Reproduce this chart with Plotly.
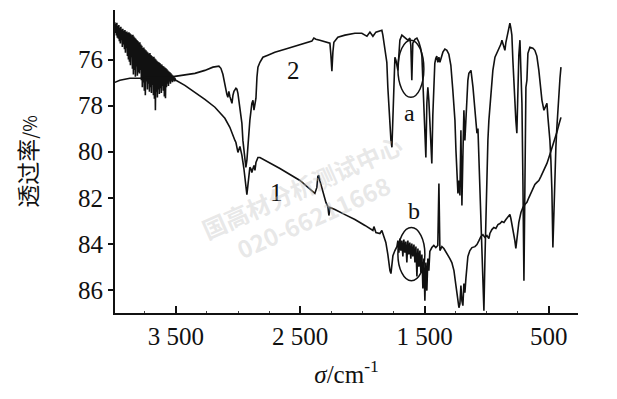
import plotly.graph_objects as go

# ---------------- data (wavenumber cm-1, transmittance %) ----------------
# noisy high-wavenumber part of curve 1
curve1_noise_wn = [
    3991, 3987, 3983, 3979, 3975, 3971, 3967, 3963, 3959, 3955,
    3951, 3947, 3943, 3939, 3935, 3931, 3927, 3923, 3918, 3914,
    3910, 3906, 3902, 3898, 3894, 3890, 3886, 3882, 3878, 3874,
    3870, 3866, 3862, 3858, 3854, 3850, 3846, 3842, 3838, 3834,
    3830, 3826, 3822, 3818, 3814, 3810, 3806, 3802, 3798, 3794,
    3790, 3786, 3782, 3778, 3774, 3770, 3766, 3762, 3758, 3754,
    3750, 3746, 3741, 3737, 3733, 3729, 3725, 3721, 3717, 3713,
    3709, 3705, 3701, 3697, 3693, 3689, 3685, 3681, 3677, 3673,
    3669, 3665, 3661, 3657, 3653, 3649, 3645, 3641, 3637, 3633,
    3629, 3625, 3621, 3617, 3613, 3609, 3605, 3601, 3597, 3593,
    3588, 3584, 3580, 3576, 3572, 3568, 3564, 3560, 3556, 3552,
    3548, 3544, 3540, 3536, 3532, 3528, 3524, 3520, 3516, 3512,
    3508, 3504, 3500,
]
curve1_noise_T = [
    74.38, 74.85, 74.45, 74.95, 74.40, 75.05, 74.55, 75.10, 74.50, 75.20,
    74.62, 75.30, 74.58, 75.15, 74.70, 75.45, 74.66, 75.35, 74.75, 75.55,
    74.72, 75.70, 74.80, 75.50, 74.78, 75.85, 74.85, 76.00, 74.82, 76.10,
    74.86, 76.25, 74.90, 75.90, 74.95, 76.40, 74.92, 76.65, 75.00, 76.45,
    75.05, 76.75, 75.10, 76.30, 75.15, 76.70, 75.20, 76.55, 75.25, 76.60,
    75.25, 76.45, 75.35, 76.90, 75.40, 77.20, 75.50, 77.00, 75.48, 77.35,
    75.55, 77.55, 75.60, 76.95, 75.65, 77.30, 75.70, 77.05, 75.75, 77.40,
    75.72, 77.20, 75.80, 77.45, 75.85, 77.10, 75.90, 77.55, 75.88, 77.70,
    75.95, 78.20, 76.00, 77.40, 76.05, 77.65, 76.10, 77.30, 76.12, 77.50,
    76.15, 77.25, 76.20, 77.45, 76.22, 77.15, 76.28, 77.35, 76.30, 77.60,
    76.35, 77.68, 76.38, 77.20, 76.42, 77.05, 76.48, 77.15, 76.52, 76.95,
    76.55, 77.05, 76.60, 76.92, 76.65, 76.98, 76.70, 76.90, 76.75, 76.95,
    76.80, 76.92, 76.90,
]

# remainder of curve 1 (wavenumber, transmittance)
curve1_points = [
    (3428, 77.12), (3347, 77.42), (3267, 77.73), (3186, 78.07), (3106, 78.55), (3066, 78.94),
    (3041, 79.33), (3025, 79.51), (3017, 79.60), (3001, 80.03), (2985, 79.77), (2969, 80.16),
    (2953, 80.73), (2945, 81.16), (2937, 81.60), (2929, 81.86), (2921, 81.47), (2913, 80.90),
    (2905, 80.68), (2897, 80.73), (2889, 80.90), (2880, 80.73), (2872, 80.60), (2864, 80.81),
    (2856, 80.47), (2840, 80.25), (2824, 80.25), (2663, 80.73), (2502, 81.25), (2382, 81.81),
    (2366, 81.55), (2358, 81.07), (2350, 81.03), (2342, 81.25), (2334, 81.42), (2326, 81.60),
    (2310, 81.94), (2293, 82.20), (2277, 82.38), (2269, 82.77), (2261, 82.42), (2221, 82.51),
    (2140, 82.73), (2060, 82.94), (1979, 83.20), (1939, 83.33), (1915, 83.42), (1907, 83.25),
    (1891, 83.51), (1859, 83.55), (1843, 83.42), (1827, 83.68), (1811, 83.94), (1795, 84.46),
    (1787, 84.81), (1778, 85.16), (1770, 85.29), (1762, 84.90), (1754, 84.51), (1738, 84.29),
    (1722, 84.12), (1714, 83.86), (1706, 84.38), (1698, 83.77), (1690, 84.29), (1682, 83.86),
    (1674, 84.55), (1666, 83.81), (1658, 84.38), (1650, 83.90), (1642, 84.81), (1634, 83.86),
    (1626, 84.46), (1618, 83.94), (1610, 84.64), (1602, 83.99), (1594, 84.55), (1585, 84.03),
    (1577, 84.81), (1569, 84.12), (1561, 85.42), (1553, 84.20), (1545, 84.99), (1537, 84.29),
    (1529, 85.25), (1521, 84.46), (1513, 85.94), (1505, 84.64), (1497, 86.47), (1489, 84.81),
    (1481, 86.03), (1473, 84.64), (1465, 85.16), (1457, 84.33), (1441, 84.16), (1425, 84.07),
    (1409, 84.16), (1393, 84.07), (1384, 81.38), (1376, 84.29), (1360, 84.12), (1344, 84.20),
    (1328, 84.33), (1312, 84.46), (1296, 84.64), (1280, 84.81), (1263, 85.16), (1247, 85.81),
    (1231, 86.47), (1223, 86.77), (1215, 86.60), (1207, 85.81), (1199, 86.47), (1191, 86.68),
    (1183, 85.72), (1175, 86.12), (1167, 85.51), (1159, 85.16), (1151, 84.55), (1135, 84.29),
    (1118, 84.16), (1094, 84.12), (1078, 84.03), (1062, 83.86), (1046, 83.68), (1030, 83.60),
    (1014, 83.72), (998, 83.64), (982, 83.77), (974, 83.55), (958, 83.38), (942, 83.29),
    (926, 83.33), (909, 83.16), (893, 83.12), (877, 83.03), (861, 83.07), (845, 82.94),
    (829, 82.81), (813, 82.72), (805, 82.90), (789, 83.33), (773, 83.86), (765, 84.20),
    (757, 83.77), (741, 83.07), (724, 82.64), (708, 82.42), (692, 82.29), (676, 82.20),
    (660, 81.99), (644, 81.81), (628, 81.59), (612, 81.42), (596, 81.33), (580, 81.25),
    (563, 81.07), (547, 80.90), (531, 80.73), (515, 80.51), (499, 80.25), (483, 79.99),
    (467, 79.77), (451, 79.51), (435, 79.16), (418, 78.81), (402, 78.51),
]

curve2_points = [
    (3991, 76.99), (3951, 76.90), (3870, 76.81), (3790, 76.81), (3709, 76.77), (3629, 76.77),
    (3548, 76.77), (3508, 76.73), (3428, 76.68), (3347, 76.60), (3267, 76.47), (3202, 76.33),
    (3154, 76.29), (3138, 76.38), (3122, 76.64), (3106, 77.16), (3090, 77.51), (3082, 77.64),
    (3074, 77.38), (3066, 77.60), (3058, 77.77), (3049, 77.90), (3041, 77.55), (3033, 77.38),
    (3017, 77.25), (3009, 77.29), (3001, 77.47), (2985, 78.07), (2969, 78.77), (2961, 79.51),
    (2953, 80.03), (2945, 80.51), (2937, 80.68), (2929, 80.38), (2921, 79.64), (2905, 78.64),
    (2889, 77.90), (2880, 77.77), (2872, 78.20), (2864, 77.94), (2856, 77.68), (2848, 76.77),
    (2840, 76.33), (2824, 76.12), (2800, 75.90), (2760, 75.81), (2704, 75.68), (2623, 75.55),
    (2543, 75.42), (2462, 75.29), (2406, 75.20), (2390, 75.07), (2374, 75.12), (2342, 75.16),
    (2293, 75.25), (2261, 75.29), (2253, 75.81), (2245, 76.51), (2237, 75.68), (2229, 75.25),
    (2197, 75.03), (2140, 74.94), (2060, 74.86), (2004, 74.86), (1979, 74.94), (1963, 74.99),
    (1939, 74.81), (1915, 74.99), (1891, 74.81), (1867, 74.77), (1843, 74.73), (1835, 74.94),
    (1819, 75.47), (1811, 75.81), (1803, 76.12), (1795, 77.20), (1787, 77.99), (1778, 78.73),
    (1770, 79.51), (1762, 79.81), (1754, 78.20), (1746, 76.60), (1738, 75.90), (1730, 76.03),
    (1722, 76.20), (1714, 76.47), (1706, 75.81), (1698, 75.16), (1682, 74.94), (1658, 75.07),
    (1634, 75.16), (1618, 75.07), (1610, 75.38), (1602, 76.90), (1594, 75.29), (1577, 75.12),
    (1561, 75.07), (1545, 75.25), (1529, 75.55), (1521, 75.85), (1513, 77.20), (1505, 78.20),
    (1497, 79.29), (1489, 80.25), (1481, 77.90), (1473, 77.20), (1465, 77.77), (1457, 78.86),
    (1449, 79.81), (1441, 80.51), (1433, 78.42), (1425, 76.68), (1417, 76.16), (1409, 75.94),
    (1401, 75.85), (1393, 76.12), (1384, 75.90), (1376, 76.12), (1368, 75.94), (1352, 75.68),
    (1336, 75.55), (1320, 75.60), (1304, 75.77), (1288, 76.25), (1272, 77.33), (1255, 78.64),
    (1247, 79.94), (1239, 80.81), (1231, 81.81), (1223, 81.25), (1215, 81.90), (1207, 79.07),
    (1199, 82.33), (1191, 80.16), (1183, 78.20), (1175, 79.51), (1167, 78.55), (1159, 77.46),
    (1151, 76.90), (1143, 76.60), (1126, 76.47), (1110, 77.20), (1094, 78.12), (1086, 78.64),
    (1078, 79.20), (1070, 78.99), (1062, 80.38), (1054, 81.46), (1046, 82.55), (1038, 84.42),
    (1030, 85.81), (1022, 86.90), (1014, 84.73), (1006, 82.77), (998, 81.55), (990, 79.51),
    (982, 78.64), (974, 78.07), (958, 76.99), (950, 76.47), (933, 75.90), (917, 75.73),
    (901, 75.51), (885, 75.33), (877, 75.16), (869, 75.33), (861, 75.51), (853, 75.60),
    (845, 75.25), (837, 75.03), (829, 74.81), (813, 74.42), (805, 74.64), (797, 74.94),
    (789, 76.03), (781, 77.12), (773, 77.90), (765, 78.64), (757, 79.20), (749, 77.33),
    (741, 75.81), (732, 75.16), (724, 76.47), (716, 77.90), (708, 81.38), (700, 85.60),
    (692, 81.38), (684, 77.20), (676, 76.90), (668, 75.73), (652, 75.47), (628, 75.51),
    (612, 75.60), (596, 75.85), (580, 76.47), (563, 77.42), (555, 77.77), (539, 78.20),
    (531, 78.12), (515, 77.90), (507, 78.51), (499, 78.99), (491, 79.51), (483, 80.38),
    (475, 81.68), (467, 84.16), (459, 82.42), (451, 81.03), (443, 79.81), (435, 78.94),
    (427, 78.07), (418, 77.33), (410, 76.81), (402, 76.33),
]

curve1_wn = curve1_noise_wn + [p[0] for p in curve1_points]
curve1_T = curve1_noise_T + [p[1] for p in curve1_points]
curve2_wn = [p[0] for p in curve2_points]
curve2_T = [p[1] for p in curve2_points]

x_tickvals = [3500, 2500, 1500, 500]
x_ticktext = ["3 500", "2 500", "1 500", "500"]
y_tickvals = [76, 78, 80, 82, 84, 86]

curve_labels = ["1", "2"]
curve_label_wn = [2687, 2551]
curve_label_T = [81.75, 76.47]

region_labels = ["a", "b"]
region_label_wn = [1617, 1585]
region_label_T = [78.34, 82.59]
# ellipses marking regions a and b: (wn_left, wn_right, T_top, T_bottom)
region_ellipses = [(1714, 1505, 75.16, 77.64), (1714, 1497, 83.29, 85.60)]

# ---------------- figure ----------------
fig = go.Figure()
line_style = dict(color="#111111", width=1.6)
fig.add_trace(go.Scatter(x=curve1_wn, y=curve1_T, mode="lines", line=line_style,
                         name="1", hoverinfo="skip"))
fig.add_trace(go.Scatter(x=curve2_wn, y=curve2_T, mode="lines", line=line_style,
                         name="2", hoverinfo="skip"))

for (x0, x1, y0, y1) in region_ellipses:
    fig.add_shape(type="circle", xref="x", yref="y", x0=x0, x1=x1, y0=y0, y1=y1,
                  line=dict(color="#111111", width=1.5))

for txt, xv, yv in zip(curve_labels, curve_label_wn, curve_label_T):
    fig.add_annotation(x=xv, y=yv, text=txt, showarrow=False,
                       font=dict(family="Liberation Serif", size=25, color="#111111"))
for txt, xv, yv in zip(region_labels, region_label_wn, region_label_T):
    fig.add_annotation(x=xv, y=yv, text=txt, showarrow=False,
                       font=dict(family="Liberation Serif", size=24, color="#111111"))

# watermark
wm_font = dict(family="Noto Sans CJK SC", size=24, color="rgba(200,200,200,0.42)")
fig.add_annotation(xref="paper", yref="paper", x=0.404, y=0.416, text="<b>国高材分析测试中心</b>",
                   showarrow=False, textangle=-24, xanchor="center", yanchor="middle", font=wm_font)
fig.add_annotation(xref="paper", yref="paper", x=0.428, y=0.317, text="<b>020-66211668</b>",
                   showarrow=False, textangle=-24, xanchor="center", yanchor="middle", font=wm_font)

fig.update_layout(
    width=617, height=399,
    margin=dict(l=115, r=39, t=10, b=86),
    plot_bgcolor="white", paper_bgcolor="white",
    showlegend=False,
    font=dict(family="Liberation Serif", size=25, color="#111111"),
)
fig.update_xaxes(
    range=[3990, 265], tickmode="array", tickvals=x_tickvals, ticktext=x_ticktext,
    ticks="inside", ticklen=7, tickwidth=1.5, tickcolor="#111111",
    minor=dict(ticks="inside", ticklen=2, tickwidth=1, tickcolor="#444444",
               tickmode="linear", tick0=0, dtick=250),
    showline=True, linewidth=2, linecolor="#111111", mirror=False,
    showgrid=False, zeroline=False,
    title=dict(text="<i>σ</i>/cm<sup>-1</sup>", standoff=16,
               font=dict(family="Liberation Serif", size=25)),
)
fig.update_yaxes(
    range=[87.0, 73.85], tickmode="array", tickvals=y_tickvals,
    ticks="outside", ticklen=5, tickwidth=1.5, tickcolor="#111111",
    showline=True, linewidth=2, linecolor="#111111", mirror=False,
    showgrid=False, zeroline=False,
    title=dict(text='透过率<span style="font-size:18px">/%</span>', standoff=34,
               font=dict(family="Noto Sans CJK SC", size=23)),
)

fig.write_html("out.html")
